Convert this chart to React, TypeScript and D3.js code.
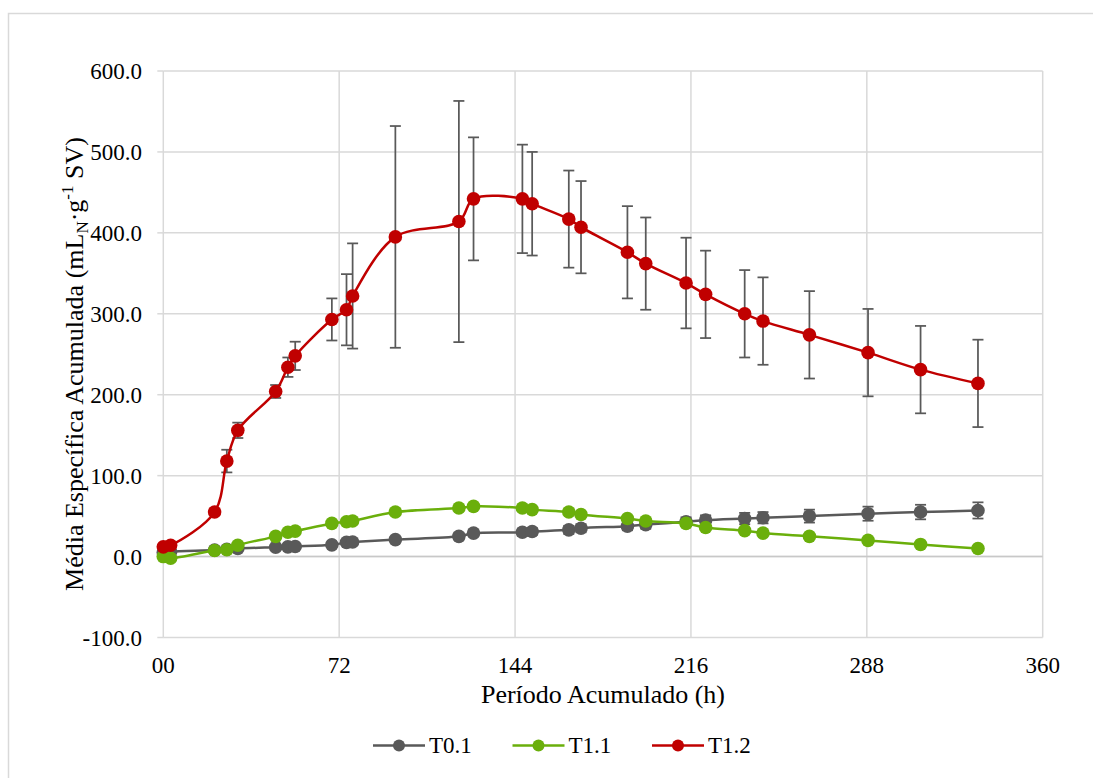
import React from 'react';
import * as d3 from 'd3';

// ---- Data ----
const hours = [0, 3, 21, 26, 30.5, 46, 51, 54, 69, 75, 77.5, 95, 121, 127, 147, 151, 166, 171, 190, 197.5, 214, 222, 238, 245.5, 264.5, 288.5, 310, 333.5];

const t01Values = [5, 6, 8, 9, 10, 11.5, 12, 12.5, 14.5, 17.5, 18, 21, 25, 29, 30, 31, 33, 35, 37.5, 39.5, 43, 45, 47, 48, 50, 53, 55, 57];
const t01Errors = [0.5, 0.5, 1, 1, 1.5, 2, 2, 2, 2.5, 3, 3, 3.5, 4, 4, 4.5, 4.5, 5, 5, 5, 5, 5.5, 6, 7, 7, 8, 8.7, 9, 10];

const t11Values = [0, -2, 7.5, 8.5, 14, 25, 30, 31.5, 41, 43, 44, 55, 60, 62, 60, 58, 55, 52, 47, 44, 41, 36, 32, 29, 25, 20, 15, 10];
const t11Errors = [0.5, 0.5, 1, 1, 1, 1.5, 1.5, 1.5, 2, 2, 2, 2, 2.5, 2.5, 2.5, 2.5, 2.5, 2.5, 2.5, 2.5, 2.5, 2.5, 2.5, 2.5, 2.5, 2.5, 2.5, 2.5];

const t12Values = [12, 14, 55, 118, 156, 204, 234, 248, 293, 305, 322, 395, 414, 442, 442, 436, 417, 407, 376, 362, 338, 324, 300, 291, 274, 252, 231, 214];
const t12Errors = [1, 1, 3, 14, 9.5, 8, 12, 17.5, 26, 44, 65, 137, 149, 76, 67, 64, 60, 57, 57, 57, 56, 54, 54, 54, 54, 54, 54, 54];

const seriesNames = ['T0.1', 'T1.1', 'T1.2'];
const seriesColors = ['#595959', '#6AAF0B', '#C00000'];

const xTicks = [0, 72, 144, 216, 288, 360];
const xTickLabels = ['00', '72', '144', '216', '288', '360'];
const yTicks = [-100, 0, 100, 200, 300, 400, 500, 600];

const FONT = "'Liberation Serif', 'Times New Roman', 'DejaVu Serif', serif";

export default function App() {
  const W = 1093;
  const H = 778;
  const x = d3.scaleLinear().domain([0, 360]).range([163.3, 1042.7]);
  const y = d3.scaleLinear().domain([-100, 600]).range([637.5, 71]);
  const fmtY = (v: number) => d3.format('.1f')(v).replace('\u2212', '-');

  const allValues = [t01Values, t11Values, t12Values];
  const allErrors = [t01Errors, t11Errors, t12Errors];

  const line = d3
    .line<number>()
    .x((_, i) => x(hours[i]))
    .y((v) => y(v))
    .curve(d3.curveCatmullRom.alpha(0.5));

  const errColor = '#595959';
  const cap = 5.5;

  const legendX = [373, 512.5, 652];
  const legendY = 745.5;
  const txt = { fontFamily: FONT } as React.CSSProperties;
  const plotMid = (x(0) + x(360)) / 2;

  return (
    <svg
      width={W}
      height={H}
      style={{ position: 'absolute', left: 0, top: 0, display: 'block', background: '#fff', fontFamily: FONT }}
    >
      <rect x={0} y={0} width={W} height={H} fill="#fff" />
      {/* chart area border */}
      <rect x={8.5} y={13.5} width={W + 20} height={H + 20} fill="none" stroke="#d9d9d9" strokeWidth={1.5} />

      {/* gridlines */}
      {yTicks.map((t) => (
        <line key={'gy' + t} x1={x(0)} x2={x(360)} y1={y(t)} y2={y(t)} stroke="#d9d9d9" strokeWidth={1.5} />
      ))}
      {xTicks.map((t) => (
        <line key={'gx' + t} x1={x(t)} x2={x(t)} y1={y(600)} y2={y(-100)} stroke="#d9d9d9" strokeWidth={1.5} />
      ))}
      {/* x axis line at 0 */}
      <line x1={x(0)} x2={x(360)} y1={y(0)} y2={y(0)} stroke="#c8c8c8" strokeWidth={1.5} />
      {/* y tick marks */}
      {yTicks.map((t) => (
        <line key={'ty' + t} x1={x(0) - 6} x2={x(0)} y1={y(t)} y2={y(t)} stroke="#d9d9d9" strokeWidth={1.5} />
      ))}

      {/* y tick labels */}
      {yTicks.map((t) => (
        <text key={'ly' + t} x={142} y={y(t)} dy="0.35em" textAnchor="end" fontSize={23} fill="#000" style={txt}>
          {fmtY(t)}
        </text>
      ))}
      {/* x tick labels */}
      {xTicks.map((t, i) => (
        <text key={'lx' + t} x={x(t)} y={673} textAnchor="middle" fontSize={23} fill="#000" style={txt}>
          {xTickLabels[i]}
        </text>
      ))}

      {/* axis titles */}
      <text x={plotMid} y={703} textAnchor="middle" fontSize={26} fill="#000" style={txt}>
        Período Acumulado (h)
      </text>
      <text
        transform={`translate(83,364) rotate(-90)`}
        textAnchor="middle"
        fontSize={26}
        fill="#000"
        style={txt}
      >
        <tspan>Média Específica Acumulada (mL</tspan>
        <tspan fontSize={17} dy={5}>N</tspan>
        <tspan dy={-5}>·g</tspan>
        <tspan fontSize={17} dy={-10}>-1</tspan>
        <tspan dy={10}> SV)</tspan>
      </text>

      {/* error bars */}
      {allValues.map((vals, s) =>
        vals.map((v, i) => {
          const e = allErrors[s][i];
          const cx = x(hours[i]);
          const y1 = y(v + e);
          const y2 = y(v - e);
          return (
            <g key={`e${s}-${i}`} stroke={errColor} strokeWidth={1.75}>
              <line x1={cx} x2={cx} y1={y1} y2={y2} />
              <line x1={cx - cap} x2={cx + cap} y1={y1} y2={y1} />
              <line x1={cx - cap} x2={cx + cap} y1={y2} y2={y2} />
            </g>
          );
        })
      )}

      {/* lines and markers */}
      {allValues.map((vals, s) => (
        <g key={'s' + s}>
          <path d={line(vals) || ''} fill="none" stroke={seriesColors[s]} strokeWidth={2.5} />
          {vals.map((v, i) => (
            <circle key={i} cx={x(hours[i])} cy={y(v)} r={6.8} fill={seriesColors[s]} />
          ))}
        </g>
      ))}

      {/* legend */}
      {seriesNames.map((n, i) => (
        <g key={'lg' + n}>
          <line x1={legendX[i]} x2={legendX[i] + 52} y1={legendY} y2={legendY} stroke={seriesColors[i]} strokeWidth={2.5} />
          <circle cx={legendX[i] + 26} cy={legendY} r={6} fill={seriesColors[i]} />
          <text x={legendX[i] + 56} y={legendY + 7.5} fontSize={23} fill="#000" style={txt}>
            {n}
          </text>
        </g>
      ))}
    </svg>
  );
}
